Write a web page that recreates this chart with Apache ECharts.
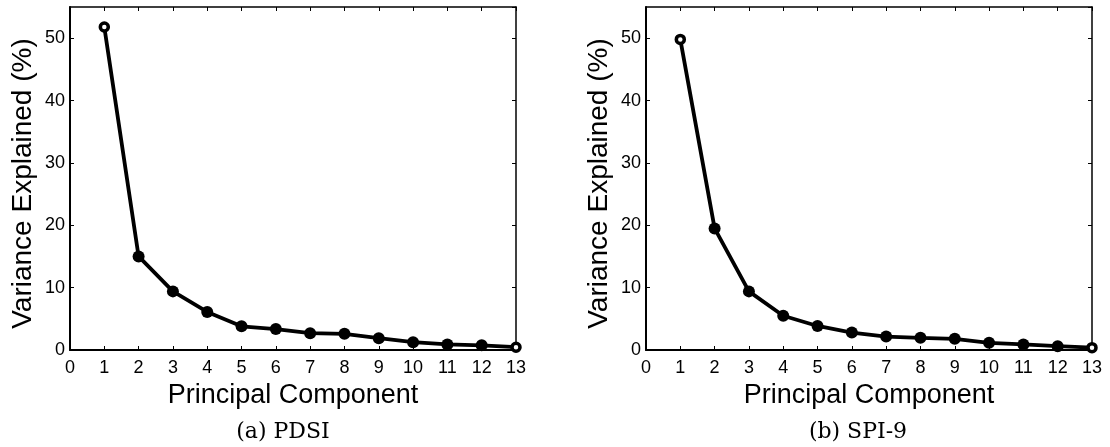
<!DOCTYPE html>
<html><head><meta charset="utf-8">
<script src="https://cdn.jsdelivr.net/npm/echarts@6/dist/echarts.min.js"></script>
<style>html,body{margin:0;padding:0;background:#fff}#c{width:1110px;height:447px}</style>
</head><body><div id="c"></div>
<script>
const components = [1,2,3,4,5,6,7,8,9,10,11,12,13];
const pdsiValues = [51.8,15.0,9.4,6.1,3.8,3.35,2.7,2.6,1.9,1.25,0.9,0.75,0.45];
const spiValues  = [49.8,19.5,9.4,5.5,3.85,2.8,2.15,1.95,1.8,1.15,0.9,0.62,0.38];
const xTicks = [0,1,2,3,4,5,6,7,8,9,10,11,12,13];
const yTicks = [0,10,20,30,40,50];
const captions = ['(a) PDSI','(b) SPI-9'];

const font = 'Liberation Sans, Arial, sans-serif';
const grids = [
  {left:70, top:7, width:446, height:343},
  {left:646, top:7, width:446, height:343}
];
const xAxes = [], yAxes = [], series = [];
[pdsiValues, spiValues].forEach((vals, i) => {
  const base = {type:'value', gridIndex:i, min:0, max:13, interval:1};
  xAxes.push(Object.assign({}, base, {
    position:'bottom',
    axisLine:{show:true, onZero:false, lineStyle:{color:'#000', width:2}},
    axisTick:{show:true, inside:true, length:4, lineStyle:{color:'#000', width:1}},
    axisLabel:{color:'#000', fontSize:18, fontFamily:font, margin:9},
    splitLine:{show:false},
    name:'Principal Component', nameLocation:'middle', nameGap:29,
    nameTextStyle:{color:'#000', fontSize:27, fontFamily:font}
  }));
  xAxes.push(Object.assign({}, base, {
    position:'top',
    axisLine:{show:true, onZero:false, lineStyle:{color:'#000', width:1.5}},
    axisTick:{show:true, inside:true, length:4, lineStyle:{color:'#000', width:1}},
    axisLabel:{show:false}, splitLine:{show:false}
  }));
  const ybase = {type:'value', gridIndex:i, min:0, max:55, interval:10};
  yAxes.push(Object.assign({}, ybase, {
    position:'left',
    axisLine:{show:true, onZero:false, lineStyle:{color:'#000', width:2}},
    axisTick:{show:true, inside:true, length:4, lineStyle:{color:'#000', width:1}},
    axisLabel:{color:'#000', fontSize:18, fontFamily:font, margin:5, showMaxLabel:false},
    splitLine:{show:false},
    name:'Variance Explained (%)', nameLocation:'middle', nameGap:33,
    nameTextStyle:{color:'#000', fontSize:28, fontFamily:font, padding:[0,10,0,0]}
  }));
  yAxes.push(Object.assign({}, ybase, {
    position:'right',
    axisLine:{show:true, onZero:false, lineStyle:{color:'#000', width:1.5}},
    axisTick:{show:true, inside:true, length:4, lineStyle:{color:'#000', width:1}},
    axisLabel:{show:false}, splitLine:{show:false}
  }));
  const data = components.map((c, k) => {
    const d = {value:[c, vals[k]]};
    if (k === 0 || k === components.length - 1) {
      d.symbolSize = 8;
      d.itemStyle = {color:'#fff', borderColor:'#000', borderWidth:3.5};
    }
    return d;
  });
  series.push({
    type:'line', xAxisIndex:i*2, yAxisIndex:i*2, data:data,
    symbol:'circle', symbolSize:12, showSymbol:true,
    lineStyle:{color:'#000', width:3.8},
    itemStyle:{color:'#000', borderColor:'#000', borderWidth:0},
    animation:false, z:5
  });
});

const chart = echarts.init(document.getElementById('c'), null, {renderer:'canvas'});
chart.setOption({
  animation:false,
  backgroundColor:'#fff',
  grid:grids,
  xAxis:xAxes,
  yAxis:yAxes,
  title:[
    {text:captions[0], left:283, top:421, textAlign:'center', padding:0,
     textStyle:{fontFamily:'DejaVu Serif, serif', fontWeight:'normal', fontSize:22, color:'#000'}},
    {text:captions[1], left:858, top:421, textAlign:'center', padding:0,
     textStyle:{fontFamily:'DejaVu Serif, serif', fontWeight:'normal', fontSize:22, color:'#000'}}
  ],
  series:series
});
</script></body></html>
